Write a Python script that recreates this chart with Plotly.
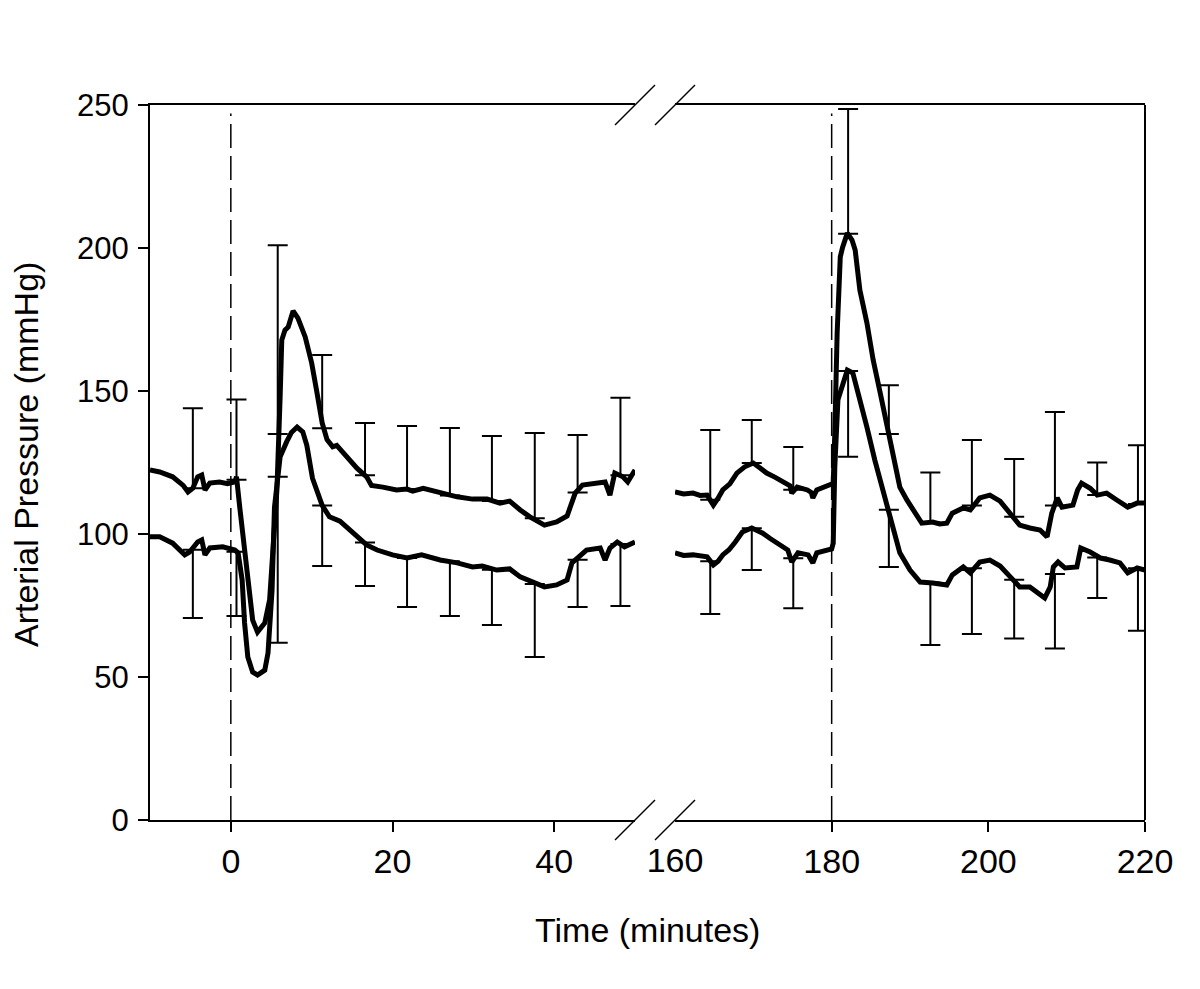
import plotly.graph_objects as go

# ---------------- data ----------------
# Left segment (minutes -10 .. 50)
sbp_left_t = [-10.0, -8.8, -7.2, -5.9, -5.3, -4.7, -4.1, -3.6, -3.2, -2.6, -1.4, -0.4, 0.5, 0.7,
              1.1, 2.0, 2.7, 3.3, 4.2, 4.8, 5.2, 5.7, 6.1, 6.3, 6.7, 7.1, 7.7, 8.3, 9.2, 10.0,
              10.6, 11.3, 11.9, 12.6, 13.1, 14.4, 15.6, 16.8, 17.4, 18.8, 20.5, 21.8, 22.5,
              23.8, 25.9, 28.0, 29.9, 31.7, 33.3, 34.5, 35.8, 37.0, 38.8, 40.3, 41.6, 42.2,
              42.6, 43.5, 44.8, 46.3, 46.9, 47.5, 48.5, 49.1, 50.0]
sbp_left_v = [122.4, 121.7, 120.0, 117.0, 114.7, 116.0, 120.0, 120.6, 115.4, 117.8, 118.2, 117.6,
              118.2, 120.0, 109.4, 86.4, 69.9, 65.7, 68.9, 77.0, 92.0, 115.4, 148.0, 167.8,
              171.3, 172.4, 178.0, 175.5, 168.9, 159.8, 150.3, 138.8, 133.0, 130.5, 131.0,
              127.0, 123.0, 120.0, 117.0, 116.4, 115.4, 115.7, 115.0, 116.0, 114.3, 113.0,
              112.2, 112.2, 110.8, 111.5, 108.4, 106.0, 103.1, 104.2, 106.3, 111.9, 114.3,
              117.1, 117.8, 118.2, 113.6, 121.3, 120.0, 118.2, 122.4]

dbp_left_t = [-10.0, -8.8, -7.2, -5.7, -5.1, -4.1, -3.6, -3.2, -2.6, -1.0, 0.5, 0.9, 1.4, 1.7,
              2.1, 2.7, 3.3, 4.2, 4.6, 5.1, 5.4, 6.1, 6.9, 7.5, 8.2, 8.9, 9.4, 10.1, 11.3, 12.2,
              13.5, 15.1, 16.8, 18.1, 20.0, 21.8, 23.6, 25.9, 28.0, 29.9, 31.1, 32.9, 34.5,
              35.8, 37.4, 38.8, 40.3, 41.6, 42.2, 42.8, 44.0, 45.7, 46.3, 46.9, 47.8, 48.7, 50.0]
dbp_left_v = [99.0, 99.0, 96.8, 92.7, 93.7, 97.2, 97.9, 92.7, 95.1, 95.5, 94.4, 93.4, 83.9, 68.9,
              57.0, 51.7, 50.7, 52.4, 58.4, 80.4, 109.4, 127.0, 132.2, 135.5, 137.4, 135.7,
              131.0, 119.5, 110.0, 106.0, 104.5, 100.5, 96.2, 94.4, 92.7, 91.6, 92.7, 90.9,
              89.9, 88.5, 88.8, 87.4, 87.8, 85.0, 82.9, 81.5, 82.2, 83.9, 89.9, 91.6, 94.4,
              95.1, 90.9, 95.1, 97.2, 95.5, 97.2]

# Right segment (minutes 160 .. 220)
sbp_right_t = [160.0, 161.1, 162.3, 163.2, 164.1, 164.9, 165.5, 166.1, 167.0, 167.9, 168.9, 170.0,
               170.9, 171.7, 172.8, 173.8, 174.7, 174.9, 175.6, 176.9, 177.4, 177.6, 178.1,
               180.0, 180.2, 180.4, 180.7, 181.1, 181.4, 182.0, 182.6, 183.0, 183.6, 184.5,
               185.3, 186.2, 187.1, 187.8, 188.7, 189.6, 190.6, 191.5, 192.9, 193.8, 194.7,
               195.4, 196.8, 197.7, 198.9, 200.2, 201.5, 202.8, 204.0, 205.3, 206.6, 207.5,
               208.1, 208.8, 209.4, 210.8, 211.4, 211.9, 213.0, 213.9, 215.1, 216.4, 217.8,
               219.0, 220.0]
sbp_right_v = [114.7, 114.0, 114.3, 113.5, 113.6, 110.1, 112.5, 115.4, 117.5, 121.3, 123.5, 124.8,
               123.0, 121.3, 119.8, 118.2, 116.8, 114.3, 116.4, 115.4, 114.5, 112.6, 115.4,
               117.5, 117.8, 135.3, 170.3, 196.9, 200.3, 205.2, 202.8, 199.3, 185.3, 173.8,
               160.8, 149.3, 137.4, 128.3, 116.4, 111.9, 107.7, 103.8, 104.2, 103.5, 103.8,
               107.3, 109.1, 108.4, 112.6, 113.6, 111.5, 107.3, 103.1, 102.1, 101.4, 99.0,
               107.3, 112.6, 109.4, 110.1, 115.4, 117.8, 116.0, 113.6, 114.3, 111.9, 109.4,
               110.8, 110.8]

dbp_right_t = [160.0, 161.1, 162.3, 163.2, 164.1, 164.9, 165.5, 166.1, 166.9, 167.7, 168.6, 169.8,
               171.2, 172.1, 173.0, 174.4, 174.9, 175.7, 177.0, 177.6, 178.1, 180.0, 180.2,
               180.4, 180.8, 181.3, 182.0, 182.7, 183.4, 184.5, 185.5, 186.6, 187.7, 188.7,
               190.0, 191.3, 192.9, 194.7, 195.4, 196.8, 197.7, 198.9, 200.2, 201.5, 202.8,
               204.0, 205.3, 206.2, 207.2, 207.9, 208.3, 208.9, 209.8, 211.3, 211.8, 213.0,
               214.3, 215.5, 216.8, 217.8, 219.0, 220.0]
dbp_right_v = [93.4, 92.5, 92.7, 92.2, 92.0, 89.2, 90.5, 92.7, 94.5, 97.2, 100.7, 102.1,
               100.3, 98.5, 96.8, 94.4, 90.2, 93.4, 92.7, 89.9, 93.4, 94.8, 96.8,
               123.4, 146.9, 151.4, 157.3, 156.3, 149.3, 137.4, 125.9, 114.3, 102.4, 93.4,
               87.4, 83.2, 82.9, 82.2, 85.7, 88.5, 86.4, 90.2, 90.9, 88.8, 85.0,
               81.5, 81.5, 79.4, 77.6, 81.5, 88.5, 90.2, 88.1, 88.5, 95.1, 93.7,
               91.6, 90.9, 89.9, 86.4, 88.1, 87.4]

# Error bars (SBP: upward SD, DBP: downward SD)
err_left_t = [-4.7, 0.7, 5.8, 11.3, 16.6, 21.8, 27.1, 32.3, 37.6, 42.9, 48.2]
err_left_sbp_mean = [116.0, 119.0, 135.0, 137.0, 120.5, 115.7, 113.5, 111.5, 105.5, 114.5, 120.5]
err_left_sbp_sd = [28.0, 28.0, 66.0, 25.6, 18.3, 22.1, 23.6, 22.8, 29.8, 20.1, 27.1]
err_left_dbp_mean = [94.5, 93.8, 120.0, 110.0, 97.0, 91.6, 90.5, 87.5, 82.5, 91.0, 96.5]
err_left_dbp_sd = [23.9, 22.5, 58.0, 21.2, 15.2, 17.1, 19.2, 19.3, 25.5, 16.5, 21.7]

err_right_t = [164.5, 169.8, 175.1, 182.1, 187.3, 192.6, 197.9, 203.3, 208.5, 213.9, 219.1]
err_right_sbp_mean = [112.0, 124.8, 115.5, 205.0, 135.0, 104.0, 110.0, 106.0, 110.0, 113.6, 110.5]
err_right_sbp_sd = [24.4, 15.1, 14.9, 43.6, 17.0, 17.5, 22.9, 20.2, 32.7, 11.4, 20.5]
err_right_dbp_mean = [90.5, 102.0, 91.5, 157.0, 108.5, 83.0, 88.0, 84.0, 86.0, 91.8, 88.0]
err_right_dbp_sd = [18.5, 14.6, 17.5, 30.0, 20.0, 21.8, 23.0, 20.5, 26.0, 14.2, 21.8]

event_times_left = [0, 0]
event_times_right = [180, 180]
event_span = [0, 247]

y_ticks = [0, 50, 100, 150, 200, 250]
x_ticks_left = [0, 20, 40]
x_ticks_right = [180, 200, 220]
x_label_extra = [160]

# ---------------- figure ----------------
FONT = "Arial, Liberation Sans, sans-serif"
fig = go.Figure()

def line(t, v, xa):
    fig.add_trace(go.Scatter(x=t, y=v, xaxis=xa, yaxis="y", mode="lines",
                             line=dict(color="black", width=5), hoverinfo="skip",
                             showlegend=False))

def ebars(t, m, sd, up, xa):
    zeros = [0] * len(t)
    fig.add_trace(go.Scatter(
        x=t, y=m, xaxis=xa, yaxis="y", mode="markers",
        marker=dict(size=1, color="rgba(0,0,0,0)"),
        error_y=dict(type="data", symmetric=False,
                     array=sd if up else zeros,
                     arrayminus=zeros if up else sd,
                     width=10, thickness=2, color="black"),
        hoverinfo="skip", showlegend=False))

# dashed event lines
fig.add_trace(go.Scatter(x=event_times_left, y=event_span, xaxis="x", yaxis="y", mode="lines",
                         line=dict(color="black", width=1.5, dash="24px,8px"),
                         hoverinfo="skip", showlegend=False))
fig.add_trace(go.Scatter(x=event_times_right, y=event_span, xaxis="x2", yaxis="y", mode="lines",
                         line=dict(color="black", width=1.5, dash="24px,8px"),
                         hoverinfo="skip", showlegend=False))

ebars(err_left_t, err_left_sbp_mean, err_left_sbp_sd, True, "x")
ebars(err_left_t, err_left_dbp_mean, err_left_dbp_sd, False, "x")
ebars(err_right_t, err_right_sbp_mean, err_right_sbp_sd, True, "x2")
ebars(err_right_t, err_right_dbp_mean, err_right_dbp_sd, False, "x2")

line(sbp_left_t, sbp_left_v, "x")
line(dbp_left_t, dbp_left_v, "x")
line(sbp_right_t, sbp_right_v, "x2")
line(dbp_right_t, dbp_right_v, "x2")

# invisible trace to register the label-only axis
fig.add_trace(go.Scatter(x=x_label_extra, y=[None], xaxis="x3", yaxis="y", mode="markers",
                         marker=dict(size=1, color="rgba(0,0,0,0)"), showlegend=False,
                         hoverinfo="skip"))

# target plot-area pixels in the screenshot (page body has an 8px margin)
PL, PR, PT, PB = 150, 1145, 105, 820
OFF = 8
W, H = 1200, 989
L, T = PL - OFF, PT - OFF
R = W - (PR - OFF)
B = H - (PB - OFF)
pw, ph = PR - PL, PB - PT
d1 = (635 - PL) / pw
d2 = (675 - PL) / pw

XF = 34
YF = 31
axis_common = dict(showgrid=False, zeroline=False, showline=True, linecolor="black",
                   linewidth=2, mirror=True, ticks="outside", ticklen=10, tickwidth=2,
                   tickcolor="black", tickfont=dict(family=FONT, size=XF, color="black"))

fig.update_layout(
    width=W, height=H, autosize=False,
    margin=dict(l=L, r=R, t=T, b=B, pad=0),
    paper_bgcolor="white", plot_bgcolor="white",
    xaxis=dict(domain=[0, d1], range=[-10, 50], tickvals=x_ticks_left, anchor="y",
               **axis_common),
    xaxis2=dict(domain=[d2, 1], range=[160, 220], tickvals=x_ticks_right, anchor="y",
                **axis_common),
    xaxis3=dict(overlaying="x2", range=[160, 220], tickvals=x_label_extra, anchor="y",
                showgrid=False, zeroline=False, showline=False, ticks="outside", ticklen=10,
                tickcolor="rgba(0,0,0,0)",
                tickfont=dict(family=FONT, size=XF, color="black")),
    yaxis=dict(range=[0, 250], tickvals=y_ticks, anchor="x",
               showgrid=False, zeroline=False, showline=True, linecolor="black",
               linewidth=2, mirror=False, ticks="outside", ticklen=10, tickwidth=2,
               tickcolor="black", ticklabelstandoff=3,
               tickfont=dict(family=FONT, size=YF, color="black")),
)

# right border of the frame
fig.add_shape(type="line", xref="paper", yref="paper", x0=1, x1=1, y0=0, y1=1,
              line=dict(color="black", width=2))

# axis-break slashes (top and bottom)
sx = 20 / pw
sy = 20 / ph
for yc in (0, 1):
    for xc in (d1, d2):
        fig.add_shape(type="line", xref="paper", yref="paper",
                      x0=xc - sx, x1=xc + sx, y0=yc - sy, y1=yc + sy,
                      line=dict(color="black", width=1.5))

fig.add_annotation(text="Time (minutes)", xref="paper", yref="paper",
                   x=(647 - PL) / pw, y=(PB - 930) / ph, showarrow=False,
                   xanchor="center", yanchor="middle",
                   font=dict(family=FONT, size=34, color="black"))
fig.add_annotation(text="Arterial Pressure (mmHg)", xref="paper", yref="paper",
                   x=(26 - PL) / pw, y=(PB - 455) / ph, showarrow=False, textangle=-90,
                   xanchor="center", yanchor="middle",
                   font=dict(family=FONT, size=34, color="black"))

fig.write_html("out.html")
